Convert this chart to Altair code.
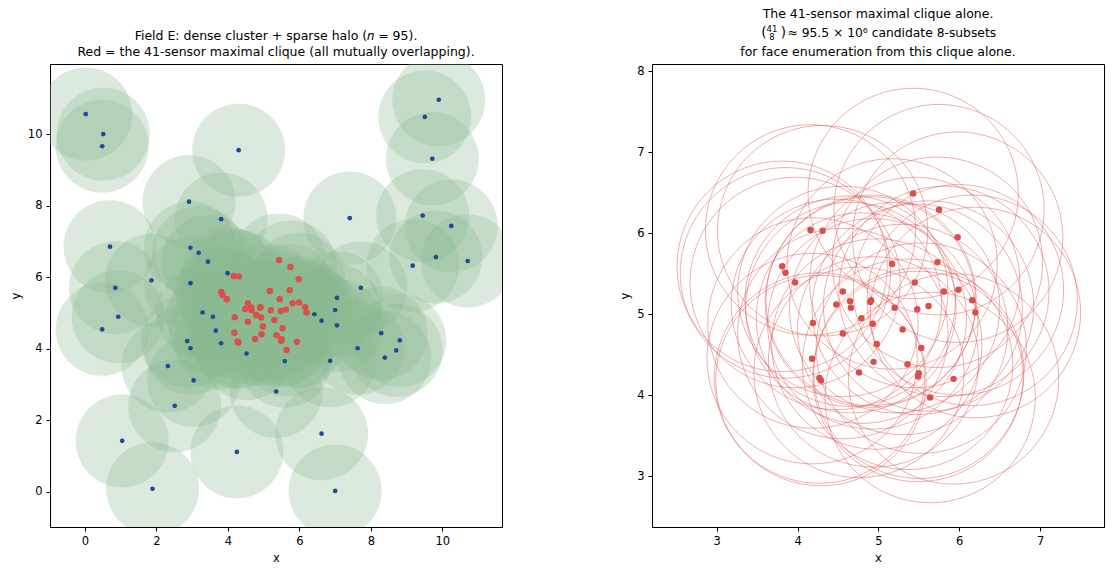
import numpy as np
import pandas as pd
import altair as alt

# Sensing radius shared by every sensor (data units)
RADIUS = 1.3

# 41 sensors forming the maximal clique (all pairwise overlapping)
clique_x = [5.43, 5.75, 5.98, 4.16, 4.31, 5.17, 5.73, 3.81, 3.85, 3.97,
            5.45, 5.81, 5.99, 4.56, 6.16, 4.65, 4.48, 4.66, 4.91, 4.90,
            5.20, 5.48, 5.62, 6.20, 4.79, 4.19, 4.93, 5.30, 4.56, 4.98,
            5.53, 4.18, 4.94, 5.36, 4.76, 5.50, 5.49, 4.27, 4.29, 5.93,
            5.64]
clique_y = [6.49, 6.29, 5.95, 6.04, 6.03, 5.62, 5.64, 5.59, 5.51, 5.39,
            5.39, 5.28, 5.30, 5.28, 5.17, 5.16, 5.12, 5.08, 5.17, 5.15,
            5.08, 5.06, 5.10, 5.02, 4.95, 4.89, 4.88, 4.81, 4.76, 4.63,
            4.58, 4.45, 4.41, 4.38, 4.28, 4.27, 4.23, 4.21, 4.18, 4.20,
            3.97]

# remaining 54 sensors (cluster fringe + sparse halo)
halo_x = [0.02, 0.51, 0.48, 4.30, 2.91, 3.81, 0.70, 2.95, 3.18, 3.44,
          3.99, 1.86, 2.95, 0.85, 9.90, 9.51, 9.72, 7.41, 9.45, 10.25,
          9.82, 10.71, 9.17, 7.72, 0.93, 0.48, 3.29, 3.58, 3.66, 2.86,
          2.95, 3.81, 4.52, 2.32, 3.04, 5.35, 2.51, 1.04, 4.25, 1.89,
          7.05, 7.00, 6.42, 6.62, 7.05, 8.29, 8.81, 8.71, 7.63, 8.39,
          5.59, 6.86, 6.62, 7.00]
halo_y = [10.57, 10.01, 9.67, 9.56, 8.12, 7.63, 6.86, 6.83, 6.69, 6.44,
          6.12, 5.92, 5.84, 5.71, 10.97, 10.49, 9.32, 7.66, 7.73, 7.44,
          6.57, 6.46, 6.33, 5.71, 4.90, 4.55, 5.02, 4.90, 4.51, 4.22,
          4.02, 4.16, 3.87, 3.52, 3.12, 2.81, 2.41, 1.43, 1.12, 0.09,
          5.43, 5.09, 4.97, 4.79, 4.66, 4.44, 4.24, 3.96, 4.02, 3.76,
          3.66, 3.67, 1.63, 0.03]

FONT = "DejaVu Sans"
BLUE = "#1f4a9c"
RED = "#d9504b"
GREEN = "#8cb993"
TITLE_SIZE = 12.5
TICK_SIZE = 11.5

all_x = halo_x + clique_x
all_y = halo_y + clique_y


def disc_table(xs, ys, r, n=90):
    """Upper/lower boundary of each sensing disc, for filled areas."""
    th = np.linspace(np.pi, 0.0, n)
    rows = []
    for i, (cx, cy) in enumerate(zip(xs, ys)):
        for t in th:
            rows.append({"sid": i, "x": cx + r * np.cos(t),
                         "top": cy + r * np.sin(t), "bot": cy - r * np.sin(t)})
    return pd.DataFrame(rows)


def ring_table(xs, ys, r, n=140):
    """Closed outline of each sensing disc."""
    th = np.linspace(0.0, 2 * np.pi, n)
    rows = []
    for i, (cx, cy) in enumerate(zip(xs, ys)):
        for k, t in enumerate(th):
            rows.append({"sid": i, "k": k,
                         "x": cx + r * np.cos(t), "y": cy + r * np.sin(t)})
    return pd.DataFrame(rows)


halo_df = pd.DataFrame({"x": halo_x, "y": halo_y})
clique_df = pd.DataFrame({"x": clique_x, "y": clique_y})
discs = disc_table(all_x, all_y, RADIUS)
rings = ring_table(clique_x, clique_y, RADIUS)

W, H = 452, 463

# ---------------- left panel: the whole field ----------------
lx = alt.Scale(domain=[-0.98, 11.67], nice=False, zero=False)
ly = alt.Scale(domain=[-0.98, 11.97], nice=False, zero=False)
lx_axis = alt.Axis(values=[0, 2, 4, 6, 8, 10], title="x", format="d")
ly_axis = alt.Axis(values=[0, 2, 4, 6, 8, 10], title="y", format="d")

left_discs = alt.Chart(discs).mark_area(
    color=GREEN, opacity=0.3, clip=True, orient="vertical"
).encode(
    x=alt.X("x:Q", scale=lx, axis=lx_axis),
    y=alt.Y("top:Q", scale=ly, axis=ly_axis),
    y2="bot:Q",
    detail="sid:N",
)
left_halo = alt.Chart(halo_df).mark_circle(color=BLUE, size=22, opacity=1).encode(
    x=alt.X("x:Q", scale=lx), y=alt.Y("y:Q", scale=ly)
)
left_clique = alt.Chart(clique_df).mark_circle(color=RED, size=42, opacity=1).encode(
    x=alt.X("x:Q", scale=lx), y=alt.Y("y:Q", scale=ly)
)

left = alt.layer(left_discs, left_halo, left_clique).properties(
    width=W, height=H,
    title=alt.TitleParams(
        text=["Field E: dense cluster + sparse halo (\U0001D45B = 95).",
              "Red = the 41-sensor maximal clique (all mutually overlapping)."],
        lineHeight=16),
)

# ---------------- right panel: the clique alone ----------------
rx = alt.Scale(domain=[2.20, 7.79], nice=False, zero=False)
ry = alt.Scale(domain=[2.37, 8.09], nice=False, zero=False)

right_rings = alt.Chart(rings).mark_line(
    color=RED, opacity=0.5, strokeWidth=0.9, clip=True
).encode(
    x=alt.X("x:Q", scale=rx,
            axis=alt.Axis(values=[3, 4, 5, 6, 7], title="x", format="d")),
    y=alt.Y("y:Q", scale=ry,
            axis=alt.Axis(values=[3, 4, 5, 6, 7, 8], title="y", format="d")),
    detail="sid:N",
    order="k:Q",
)
right_pts = alt.Chart(clique_df).mark_circle(color=RED, size=42, opacity=1).encode(
    x=alt.X("x:Q", scale=rx), y=alt.Y("y:Q", scale=ry)
)


def title_piece(text, px, py, size, align="left"):
    return alt.Chart(pd.DataFrame({"t": [text]})).mark_text(
        align=align, baseline="middle", font=FONT, fontSize=size, color="black"
    ).encode(x=alt.value(px), y=alt.value(py), text="t:N")


# three-line heading of the right panel; the middle line carries a
# stacked binomial coefficient, so it is set piece by piece
right_heading = [
    title_piece("The 41-sensor maximal clique alone.", W / 2, -49.7, TITLE_SIZE, "center"),
    title_piece("(", 109.3, -30.7, 13.5),
    title_piece("41", 120.0, -35.4, 8.5, "center"),
    title_piece("8", 120.0, -27.0, 8.5, "center"),
    title_piece(")", 128.8, -30.7, 13.5),
    title_piece("\u2248 95.5 \u00d7 10\u2076 candidate 8-subsets", 135.5, -30.7, 12.3),
    title_piece("for face enumeration from this clique alone.", W / 2, -12.3, TITLE_SIZE, "center"),
]

right = alt.layer(right_rings, right_pts, *right_heading).properties(
    width=W, height=H,
)

chart = alt.hconcat(left, right, spacing=116).properties(
    padding={"left": 9, "top": 7, "right": 8, "bottom": 5}
).configure_axis(
    domainColor="black", tickColor="black", labelColor="black", titleColor="black",
    labelFont=FONT, titleFont=FONT, labelFontSize=TICK_SIZE, titleFontSize=TICK_SIZE,
    titleFontWeight="normal", tickSize=4, labelPadding=4, titlePadding=6,
    grid=False, domainWidth=1, tickWidth=1,
).configure_view(
    stroke="black", strokeWidth=1
).configure_title(
    font=FONT, fontSize=TITLE_SIZE, fontWeight="normal", color="black", offset=6,
    anchor="middle"
)

chart.save("out.html", embed_options={"renderer": "svg", "actions": False})
